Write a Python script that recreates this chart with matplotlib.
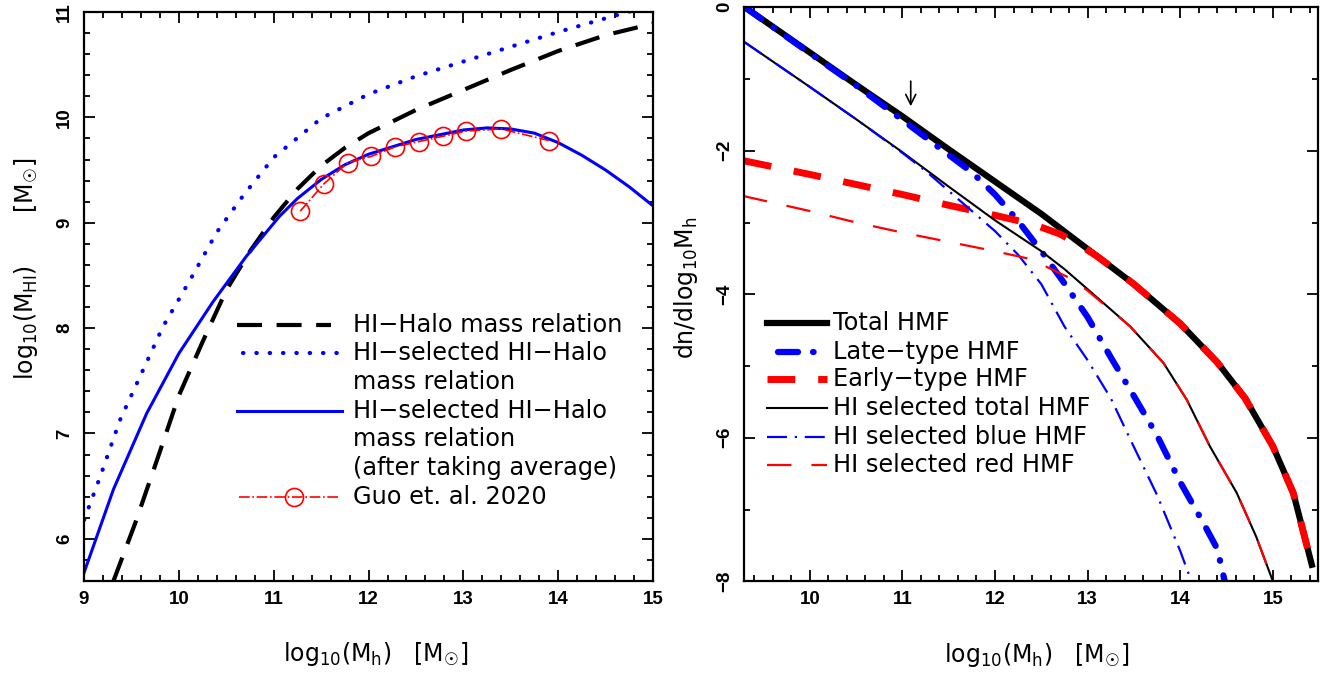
import matplotlib.pyplot as plt
from matplotlib.ticker import MultipleLocator

plt.rcParams['font.family'] = 'DejaVu Sans'
plt.rcParams['mathtext.default'] = 'regular'
plt.rcParams['xtick.labelsize'] = 13.5
plt.rcParams['ytick.labelsize'] = 13.5

# ---------------- left panel: HI mass vs halo mass ----------------
mh_hihalo = [9.31, 9.54, 9.77, 10.0, 10.25, 10.5, 10.75, 11.0, 11.25, 11.5,
             11.75, 12.0, 12.5, 13.0, 13.5, 14.0, 14.5, 15.0]
mhi_hihalo = [5.60, 6.15, 6.75, 7.36, 7.87, 8.36, 8.73, 9.05, 9.32, 9.54,
              9.71, 9.85, 10.07, 10.26, 10.45, 10.63, 10.78, 10.89]

mh_sel = [9.0, 9.17, 9.38, 9.59, 9.83, 10.12, 10.4, 10.68, 11.0, 11.5,
          12.0, 12.5, 13.0, 13.5, 14.0, 14.5, 14.85]
mhi_sel = [6.18, 6.59, 7.13, 7.54, 8.01, 8.46, 8.91, 9.26, 9.62, 9.99,
           10.22, 10.39, 10.53, 10.67, 10.81, 10.94, 11.03]

mh_avg = [9.0, 9.31, 9.66, 10.0, 10.36, 10.71, 11.06, 11.25, 11.5,
          11.75, 12.0, 12.5, 13.0, 13.25, 13.5, 13.75, 14.0, 14.25, 14.5, 14.75, 15.0]
mhi_avg = [5.68, 6.47, 7.19, 7.76, 8.25, 8.68, 9.06, 9.23, 9.41,
           9.55, 9.65, 9.79, 9.88, 9.90, 9.89, 9.85, 9.76, 9.64, 9.50, 9.34, 9.16]

mh_guo = [11.28, 11.53, 11.78, 12.03, 12.28, 12.53, 12.78, 13.03, 13.40, 13.90]
mhi_guo = [9.11, 9.37, 9.57, 9.63, 9.72, 9.77, 9.82, 9.87, 9.89, 9.78]

left_xticks = [9, 10, 11, 12, 13, 14, 15]
left_yticks = [6, 7, 8, 9, 10, 11]

# ---------------- right panel: halo mass functions ----------------
mh_total = [9.3, 10.0, 10.5, 11.0, 11.5, 12.0, 12.5, 13.0, 13.5, 14.0, 14.4,
            14.7, 15.0, 15.22, 15.42]
hmf_total = [0.0, -0.63, -1.08, -1.52, -1.98, -2.43, -2.88, -3.37, -3.86,
             -4.41, -4.95, -5.45, -6.12, -6.77, -7.77]

mh_late = [9.3, 10.0, 10.5, 11.0, 11.4, 11.75, 12.0, 12.25, 12.5, 12.75, 13.0,
           13.25, 13.5, 13.75, 14.0, 14.25, 14.4, 14.48]
hmf_late = [0.0, -0.64, -1.09, -1.57, -1.96, -2.30, -2.61, -2.98, -3.40, -3.85,
            -4.32, -4.88, -5.42, -5.97, -6.62, -7.19, -7.55, -8.0]

mh_early = [9.29, 10.0, 10.5, 11.0, 11.5, 12.0, 12.4, 12.7, 12.9, 13.1, 13.3,
            13.5, 14.0, 14.4, 14.7, 15.0, 15.22, 15.42]
hmf_early = [-2.14, -2.33, -2.47, -2.61, -2.76, -2.90, -3.02, -3.16, -3.30,
             -3.47, -3.66, -3.86, -4.41, -4.95, -5.45, -6.12, -6.77, -7.77]

mh_hitot = [9.3, 10.0, 10.5, 11.0, 11.5, 12.0, 12.5, 12.75, 13.0, 13.46, 13.82,
            14.07, 14.32, 14.61, 14.82, 15.0]
hmf_hitot = [-0.49, -1.11, -1.56, -2.02, -2.50, -2.97, -3.40, -3.65, -3.93,
             -4.45, -4.96, -5.47, -6.12, -6.77, -7.38, -8.0]

mh_hiblue = [9.3, 10.0, 10.5, 11.0, 11.25, 11.5, 11.75, 12.0, 12.25, 12.5,
             12.75, 13.0, 13.25, 13.5, 13.75, 14.0, 14.12]
hmf_hiblue = [-0.49, -1.11, -1.56, -2.03, -2.28, -2.56, -2.84, -3.12, -3.45,
              -3.86, -4.45, -4.92, -5.45, -6.13, -6.80, -7.58, -8.0]

mh_hired = [9.28, 10.0, 10.5, 11.0, 11.5, 12.0, 12.35, 12.56, 12.8, 13.0,
            13.46, 13.82, 14.07, 14.32, 14.61, 14.82, 15.0]
hmf_hired = [-2.63, -2.84, -3.00, -3.14, -3.27, -3.40, -3.50, -3.62, -3.77,
             -3.95, -4.45, -4.96, -5.47, -6.12, -6.77, -7.38, -8.0]

right_xticks = [10, 11, 12, 13, 14, 15]
right_yticks = [-8, -6, -4, -2, 0]

arrow_x = 11.09
arrow_top, arrow_tip = -1.03, -1.38

MSUN = r'[M$_{☉}$]'

# line styles
ls_black_dash = dict(color='black', lw=3.0, linestyle=(0, (6.0, 3.5)))
ls_blue_dot = dict(color='blue', lw=3.0, linestyle=(0, (0.1, 3.1)),
                   dash_capstyle='round')
ls_blue_solid = dict(color='blue', lw=2.2)
ls_guo = dict(color='red', lw=1.2, linestyle='-.', marker='o', ms=13,
              mfc='none', mec='red', mew=1.2)

ls_total = dict(color='black', lw=4.5)
ls_late = dict(color='blue', lw=4.5, linestyle=(0, (3.2, 2.4, 0.1, 2.4)),
               dash_capstyle='round')
ls_early = dict(color='red', lw=5.0, linestyle=(0, (4.0, 3.3)))
ls_hitot = dict(color='black', lw=1.5)
ls_hiblue = dict(color='blue', lw=1.6, linestyle=(0, (9, 3.5, 1, 3.5)))
ls_hired = dict(color='red', lw=1.6, linestyle=(0, (11, 9)))


def fmt(v):
    return str(v).replace('-', '−')


def style_axes(ax, xticks, yticks, xminor, yminor):
    ax.set_xticks(xticks, [fmt(v) for v in xticks])
    ax.set_yticks(yticks, [fmt(v) for v in yticks])
    ax.xaxis.set_minor_locator(MultipleLocator(xminor))
    ax.yaxis.set_minor_locator(MultipleLocator(yminor))
    ax.tick_params(which='both', direction='in', top=True, right=True, width=1.3)
    ax.tick_params(which='major', length=8)
    ax.tick_params(which='minor', length=4.5)
    ax.tick_params(axis='y', pad=8)
    ax.tick_params(axis='x', pad=7)
    for s in ax.spines.values():
        s.set_linewidth(1.6)


def key(ax, x0, x1, y, tx, lines, style, dy=0.0503):
    kw = {k: v for k, v in style.items() if k not in ('marker', 'ms', 'mfc', 'mec', 'mew')}
    ax.plot([x0, x1], [y, y], transform=ax.transAxes, clip_on=False, **kw)
    for i, t in enumerate(lines):
        ax.text(tx, y - i * dy, t, transform=ax.transAxes, fontsize=17.3,
                va='center', ha='left')


fig = plt.figure(figsize=(13.3, 6.77), dpi=100)
ax1 = fig.add_axes([0.0632, 0.1418, 0.4278, 0.8405])
ax2 = fig.add_axes([0.5594, 0.1414, 0.4318, 0.8479])

# left panel
ax1.plot(mh_hihalo, mhi_hihalo, **ls_black_dash)
ax1.plot(mh_sel, mhi_sel, **ls_blue_dot)
ax1.plot(mh_avg, mhi_avg, **ls_blue_solid)
ax1.plot(mh_guo, mhi_guo, **ls_guo)
ax1.set_xlim(9, 15)
ax1.set_ylim(5.6, 11)
style_axes(ax1, left_xticks, left_yticks, 0.2, 0.2)
ax1.set_xlabel(r'log$_{10}$(M$_h$)   ' + MSUN, fontsize=17)
ax1.xaxis.set_label_coords(0.513, -0.104)
ax1.set_ylabel(r'log$_{10}$(M$_{HI}$)       ' + MSUN, fontsize=17)
ax1.yaxis.set_label_coords(-0.077, 0.548)

key(ax1, 0.268, 0.434, 0.450, 0.472, ['HI−Halo mass relation'], ls_black_dash)
key(ax1, 0.280, 0.449, 0.400, 0.472, ['HI−selected HI−Halo', 'mass relation'],
    ls_blue_dot)
key(ax1, 0.268, 0.453, 0.299, 0.472,
    ['HI−selected HI−Halo', 'mass relation', '(after taking average)'],
    ls_blue_solid)
key(ax1, 0.272, 0.449, 0.148, 0.472, ['Guo et. al. 2020'], ls_guo)
ax1.plot([0.369], [0.148], transform=ax1.transAxes, clip_on=False,
         marker='o', ms=13, mfc='none', mec='red', mew=1.2)

# right panel
ax2.plot(mh_total, hmf_total, **ls_total)
ax2.plot(mh_late, hmf_late, **ls_late)
ax2.plot(mh_early, hmf_early, **ls_early)
ax2.plot(mh_hitot, hmf_hitot, **ls_hitot)
ax2.plot(mh_hiblue, hmf_hiblue, **ls_hiblue)
ax2.plot(mh_hired, hmf_hired, **ls_hired)
ax2.annotate('', xy=(arrow_x, arrow_tip), xytext=(arrow_x, arrow_top),
             arrowprops=dict(arrowstyle='->', lw=1.2, color='black',
                             mutation_scale=18, shrinkA=0, shrinkB=0))
ax2.set_xlim(9.29, 15.49)
ax2.set_ylim(-8, 0)
style_axes(ax2, right_xticks, right_yticks, 0.2, 1)
ax2.set_xlabel(r'log$_{10}$(M$_h$)   ' + MSUN, fontsize=17)
ax2.xaxis.set_label_coords(0.51, -0.104)
ax2.set_ylabel(r'dn/dlog$_{10}$M$_h$', fontsize=17)
ax2.yaxis.set_label_coords(-0.077, 0.511)

rows = [0.4495, 0.400, 0.352, 0.301, 0.252, 0.2026]
key(ax2, 0.0395, 0.145, rows[0], 0.1545, ['Total HMF'], ls_total)
key(ax2, 0.060, 0.145, rows[1], 0.1545, ['Late−type HMF'], ls_late)
key(ax2, 0.0395, 0.145, rows[2], 0.1545, ['Early−type HMF'], ls_early)
key(ax2, 0.0395, 0.145, rows[3], 0.1545, ['HI selected total HMF'], ls_hitot)
key(ax2, 0.0395, 0.145, rows[4], 0.1545, ['HI selected blue HMF'], ls_hiblue)
key(ax2, 0.0395, 0.145, rows[5], 0.1545, ['HI selected red HMF'], ls_hired)

# tick label font, applied once the tick objects exist
fig.canvas.draw()
for ax in (ax1, ax2):
    for lab in ax.get_xticklabels():
        lab.set(fontfamily='Liberation Sans', fontweight='bold', fontsize=13.5)
    for lab in ax.get_yticklabels():
        lab.set(fontfamily='Liberation Sans', fontweight='bold', fontsize=13.5,
                rotation=90, va='center', ha='right')

fig.savefig('out.png', dpi=100)
